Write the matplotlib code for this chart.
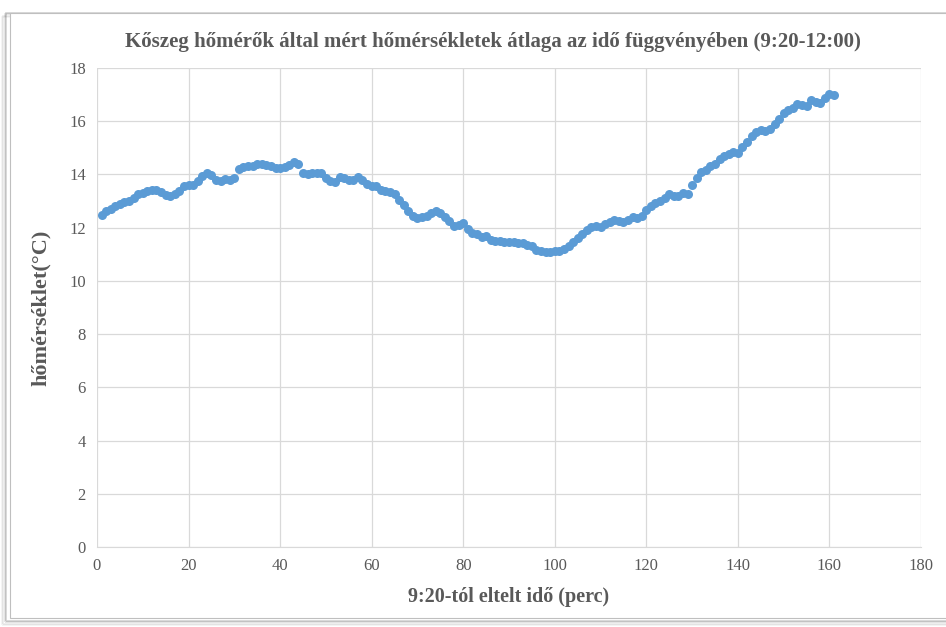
import numpy as np
import matplotlib
matplotlib.use("Agg")
import matplotlib.pyplot as plt
from matplotlib.patches import Rectangle

matplotlib.rcParams.update({
    "font.family": ["Liberation Serif", "DejaVu Serif"],
    "font.size": 12,
})

# ── Adatok ───────────────────────────────────────────────────────────────────
perc = list(range(1, 162))
homerseklet = [
    12.48, 12.62, 12.72, 12.80, 12.88, 12.98, 13.02, 13.10, 13.25, 13.30,
    13.38, 13.43, 13.42, 13.35, 13.22, 13.20, 13.28, 13.36, 13.55, 13.60,
    13.62, 13.75, 13.95, 14.05, 13.98, 13.80, 13.75, 13.82, 13.80, 13.88,
    14.20, 14.28, 14.30, 14.32, 14.38, 14.38, 14.35, 14.30, 14.25, 14.24,
    14.28, 14.35, 14.45, 14.40, 14.05, 14.00, 14.05, 14.07, 14.05, 13.85,
    13.75, 13.70, 13.90, 13.88, 13.80, 13.78, 13.92, 13.80, 13.65, 13.58,
    13.55, 13.40, 13.36, 13.35, 13.28, 13.05, 12.85, 12.62, 12.45, 12.36,
    12.40, 12.45, 12.55, 12.64, 12.55, 12.40, 12.25, 12.08, 12.10, 12.19,
    11.95, 11.80, 11.75, 11.65, 11.70, 11.55, 11.50, 11.50, 11.48, 11.47,
    11.45, 11.42, 11.44, 11.35, 11.30, 11.15, 11.12, 11.10, 11.10, 11.11,
    11.12, 11.20, 11.32, 11.45, 11.62, 11.78, 11.92, 12.04, 12.05, 12.02,
    12.15, 12.20, 12.30, 12.25, 12.22, 12.28, 12.42, 12.38, 12.45, 12.65,
    12.80, 12.92, 13.00, 13.12, 13.28, 13.20, 13.18, 13.30, 13.25, 13.60,
    13.85, 14.10, 14.18, 14.30, 14.40, 14.58, 14.68, 14.78, 14.85, 14.80,
    15.05, 15.22, 15.45, 15.58, 15.68, 15.62, 15.70, 15.88, 16.10, 16.30,
    16.42, 16.50, 16.65, 16.62, 16.58, 16.80, 16.72, 16.70, 16.88, 17.02,
    16.98,
]

C_PONT = "#5B9BD5"
C_SZOV = "#595959"
C_RACS = "#D9D9D9"

fig = plt.figure(figsize=(9.46, 6.27), dpi=100)

# keret árnyékkal (Excel diagram doboz)
for i, a in enumerate([0.05, 0.08, 0.12, 0.18]):
    d = (4 - i) * 0.0015
    fig.patches.append(Rectangle((0.008 - d, 0.012 - d * 1.5), 1.2, 0.97,
                                 transform=fig.transFigure, facecolor="none",
                                 edgecolor="black", alpha=a, lw=1.2, zorder=0))
fig.patches.append(Rectangle((0.011, 0.015), 1.2, 0.965,
                             transform=fig.transFigure, facecolor="white",
                             edgecolor="#BFBFBF", lw=0.8, zorder=0))

ax = fig.add_axes([0.1025, 0.1276, 0.8711, 0.7639])
ax.set_zorder(5)
ax.patch.set_alpha(0)
ax.plot(perc, homerseklet, linestyle="none", marker="o", markersize=6.5,
        color=C_PONT, markeredgewidth=0, zorder=3)

ax.set_xlim(0, 180)
ax.set_ylim(0, 18)
ax.set_xticks(range(0, 181, 20))
ax.set_yticks(range(0, 19, 2))
ax.grid(True, color=C_RACS, linewidth=0.9)
ax.set_axisbelow(True)
for s in ["top", "right", "left"]:
    ax.spines[s].set_visible(False)
ax.spines["bottom"].set_color(C_RACS)
ax.tick_params(length=0, colors=C_SZOV, labelsize=12, pad=8)

fig.text(0.521, 1 - 42 / 627,
         "Kőszeg hőmérők által mért hőmérsékletek átlaga az idő függvényében (9:20-12:00)",
         fontsize=15, fontweight="bold", color=C_SZOV, ha="center", va="center")
ax.set_xlabel("9:20-tól eltelt idő (perc)", fontsize=14.5, fontweight="bold",
              color=C_SZOV, labelpad=9)
ax.set_ylabel("hőmérséklet(°C)", fontsize=16, fontweight="bold",
              color=C_SZOV, labelpad=13)

plt.savefig("out.png", dpi=100)
plt.close()
